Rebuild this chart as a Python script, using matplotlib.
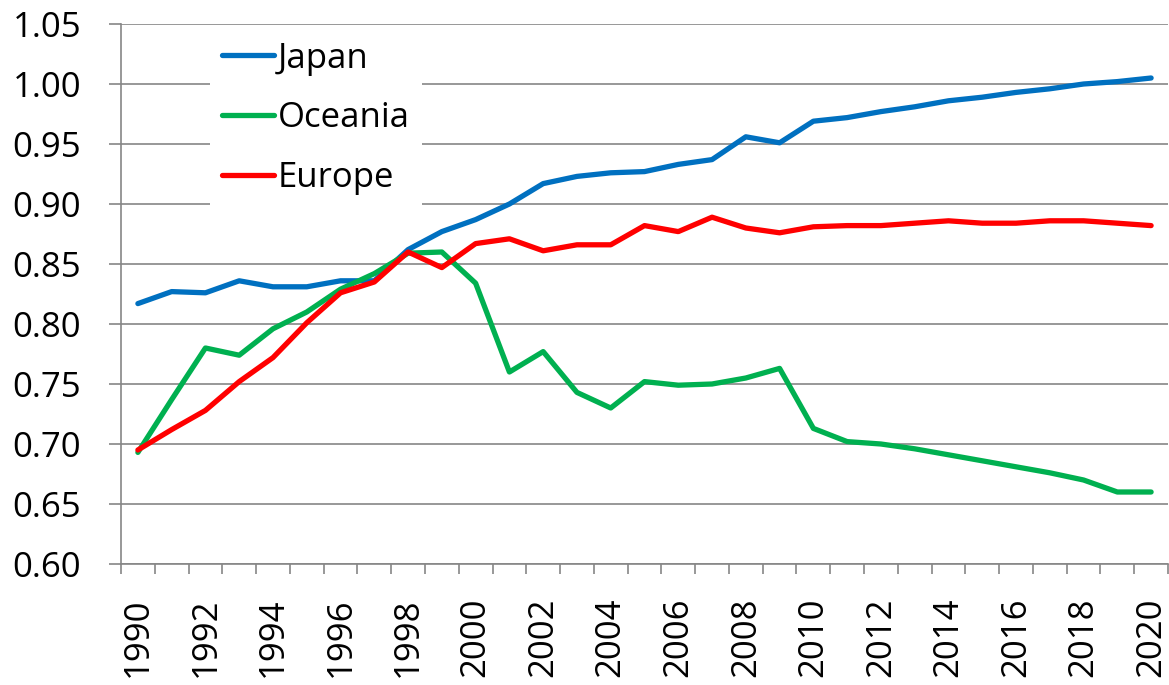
import matplotlib
matplotlib.use("Agg")
import matplotlib.pyplot as plt
from matplotlib.ticker import MultipleLocator, FixedLocator

plt.rcParams['font.family'] = ['Open Sans', 'DejaVu Sans']

years = list(range(1990, 2021))
japan = [0.817, 0.827, 0.826, 0.836, 0.831, 0.831, 0.836, 0.836, 0.862, 0.877,
         0.887, 0.900, 0.917, 0.923, 0.926, 0.927, 0.933, 0.937, 0.956, 0.951,
         0.969, 0.972, 0.977, 0.981, 0.986, 0.989, 0.993, 0.996, 1.000, 1.002,
         1.005]
oceania = [0.693, 0.737, 0.780, 0.774, 0.796, 0.810, 0.829, 0.842, 0.859, 0.860,
           0.834, 0.760, 0.777, 0.743, 0.730, 0.752, 0.749, 0.750, 0.755, 0.763,
           0.713, 0.702, 0.700, 0.696, 0.691, 0.686, 0.681, 0.676, 0.670, 0.660,
           0.660]
europe = [0.695, 0.712, 0.728, 0.752, 0.772, 0.801, 0.826, 0.835, 0.860, 0.847,
          0.867, 0.871, 0.861, 0.866, 0.866, 0.882, 0.877, 0.889, 0.880, 0.876,
          0.881, 0.882, 0.882, 0.884, 0.886, 0.884, 0.884, 0.886, 0.886, 0.884,
          0.882]

series = [("Japan", japan, "#0070C0"),
          ("Oceania", oceania, "#00B050"),
          ("Europe", europe, "#FF0000")]

grey = "#868686"
fs = 25

fig = plt.figure(figsize=(11.69, 6.85), dpi=100)
ax = fig.add_axes([121 / 1169, 1 - 564 / 685, 1047 / 1169, 540 / 685])

x = list(range(len(years)))
for name, vals, col in series:
    ax.plot(x, vals, color=col, lw=3.8, label=name,
            solid_capstyle='round', solid_joinstyle='round', zorder=3)

ax.set_xlim(-0.5, len(years) - 0.5)
ax.set_ylim(0.60, 1.05)
ax.yaxis.set_major_locator(MultipleLocator(0.05))
ax.yaxis.set_major_formatter(matplotlib.ticker.FormatStrFormatter('%.2f'))
ax.grid(axis='y', color=grey, lw=1.2, zorder=0)
ax.set_axisbelow(True)

ax.xaxis.set_major_locator(FixedLocator(x[::2]))
ax.set_xticklabels([str(y) for y in years[::2]], rotation=90)
ax.xaxis.set_minor_locator(FixedLocator([i - 0.5 for i in range(len(years) + 1)]))

for s in ['top', 'right']:
    ax.spines[s].set_visible(False)
for s in ['left', 'bottom']:
    ax.spines[s].set_color(grey)
    ax.spines[s].set_linewidth(1.2)

ax.tick_params(axis='y', which='major', direction='out', length=8.6, width=1.2,
               color=grey, pad=20, labelsize=fs)
ax.tick_params(axis='x', which='major', length=0, pad=24, labelsize=fs)
ax.tick_params(axis='x', which='minor', direction='out', length=7.5, width=1.2,
               color=grey)

leg = ax.legend(loc='upper left', bbox_to_anchor=(0.085, 0.99), borderaxespad=0,
                frameon=True, fancybox=False, facecolor='white', edgecolor='none',
                framealpha=1, fontsize=fs, handlelength=1.5, handletextpad=0.1,
                labelspacing=0.74, borderpad=0.35)
for h in leg.get_lines():
    h.set_solid_capstyle('round')
    h.set_linewidth(3.8)

fig.savefig("out.png", dpi=100)
